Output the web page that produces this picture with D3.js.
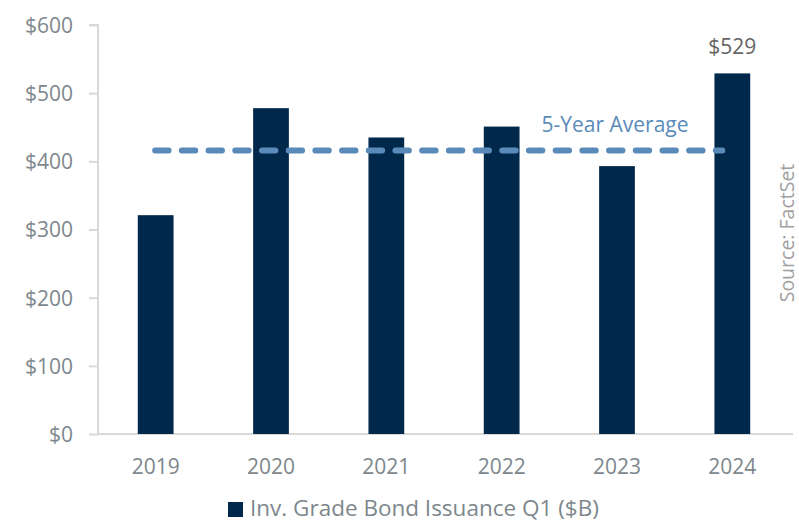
<!DOCTYPE html>
<html><head><meta charset="utf-8">
<script src="https://cdn.jsdelivr.net/npm/d3@7/dist/d3.min.js"></script>
<style>body{margin:0;background:#fff}svg{display:block}text{font-family:"Open Sans",Lato,sans-serif}</style>
</head><body><svg id="c" width="799" height="524"></svg>
<script>
const years = ["2019","2020","2021","2022","2023","2024"];
const issuance = [321, 478, 435, 451, 393, 529];
const fiveYearAvg = [416];
const yTicks = [0, 100, 200, 300, 400, 500, 600];
const lastLabel = ["$529"];

const svg = d3.select("#c");
const m = {l:98, r:9, t:25, b:90};
const W = 799, H = 524;
const x = d3.scaleBand().domain(years).range([m.l, W - m.r]).paddingInner(0.69).paddingOuter(0.345);
const y = d3.scaleLinear().domain([0, 600]).range([434, 25]);

const grey = "#7d878c";
// y axis
const ya = svg.append("g").attr("transform", `translate(${m.l},0)`)
  .call(d3.axisLeft(y).tickValues(yTicks).tickSize(9).tickPadding(16).tickFormat(d => "$" + d));
ya.select(".domain").attr("stroke", "#d9d9d9").attr("stroke-width", 2).attr("d", `M-9,${y(600)}H0V${y(0)}`);
ya.selectAll(".tick line").attr("stroke", "#d9d9d9").attr("stroke-width", 2);
ya.selectAll(".tick text").attr("fill", grey).style("font-size", "21px").attr("dy", "0.35em");

// x axis
const xa = svg.append("g").attr("transform", `translate(0,${y(0)})`)
  .call(d3.axisBottom(x).tickSize(0).tickPadding(25));
xa.select(".domain").attr("stroke", "#d9d9d9").attr("stroke-width", 2).attr("d", `M${m.l},0H${W - 6}`);
xa.selectAll(".tick text").attr("fill", grey).style("font-size", "21px");

// bars
svg.append("g").selectAll("rect").data(years).join("rect")
  .attr("x", d => x(d)).attr("width", x.bandwidth())
  .attr("y", (d, i) => y(issuance[i])).attr("height", (d, i) => y(0) - y(issuance[i]))
  .attr("fill", "#00284a");

// average line
const x0 = x(years[0]) + x.bandwidth() / 2 - 0.5;
const x1 = x(years[5]) + x.bandwidth() / 2 - 10;
svg.append("line").attr("x1", x0).attr("x2", x1)
  .attr("y1", y(fiveYearAvg[0])).attr("y2", y(fiveYearAvg[0]))
  .attr("stroke", "#5a8ab9").attr("stroke-width", 6).attr("stroke-linecap", "round")
  .attr("stroke-dasharray", "13.4 13.3");
svg.append("text").attr("x", 615).attr("y", 132).attr("text-anchor", "middle")
  .attr("fill", "#5a8ab9").style("font-size", "21px").text("5-Year Average");

// last value label
svg.append("text").attr("x", x(years[5]) + x.bandwidth() / 2).attr("y", 54)
  .attr("text-anchor", "middle").attr("fill", "#646464").style("font-size", "21px").text(lastLabel[0]);

// source
svg.append("text").attr("transform", "translate(794,233) rotate(-90)").attr("text-anchor", "middle")
  .attr("fill", "#a0a0a0").style("font-size", "19.5px").text("Source: FactSet");

// legend
svg.append("rect").attr("x", 228).attr("y", 502).attr("width", 15).attr("height", 15).attr("fill", "#00284a");
svg.append("text").attr("x", 250).attr("y", 516).attr("fill", grey).style("font-size", "22.5px")
  .text("Inv. Grade Bond Issuance Q1 ($B)");
</script></body></html>
